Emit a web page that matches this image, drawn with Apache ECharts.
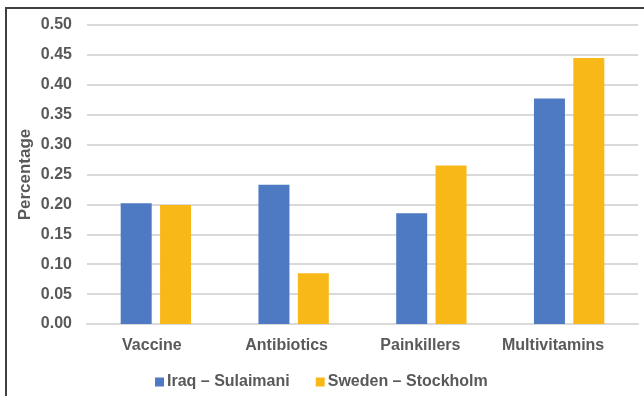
<!DOCTYPE html>
<html>
<head>
<meta charset="utf-8">
<script src="https://cdn.jsdelivr.net/npm/echarts@6/dist/echarts.min.js"></script>
<style>
  html, body { margin: 0; padding: 0; background: #fff; }
  #chart { width: 644px; height: 396px; }
</style>
</head>
<body>
<div id="chart"></div>
<script>
// Share of respondents using each medicine type, by city
const categories = ['Vaccine', 'Antibiotics', 'Painkillers', 'Multivitamins'];
const iraqSulaimani = [0.202, 0.233, 0.185, 0.377];
const swedenStockholm = [0.199, 0.085, 0.265, 0.445];
const seriesNames = ['Iraq \u2013 Sulaimani', 'Sweden \u2013 Stockholm'];

const textColor = '#595959';
const font = 'Liberation Sans, Arial, sans-serif';

// category labels sit slightly left of their bar pairs; nudge each one
const labelShift = [4, 7, 11, 16];
const labelRich = {};
labelShift.forEach((s, i) => {
  labelRich['c' + i] = {
    color: textColor, fontSize: 16, fontWeight: 'bold', fontFamily: font,
    padding: [0, 2 * s, 0, 0]
  };
});

const chart = echarts.init(document.getElementById('chart'), null, { renderer: 'canvas' });
chart.setOption({
  animation: false,
  backgroundColor: '#ffffff',
  graphic: [{
    type: 'rect',
    z: 100,
    shape: { x: 6, y: 8, width: 700, height: 500 },
    style: { fill: 'none', stroke: '#404040', lineWidth: 2 }
  }],
  grid: { left: 87, right: 6, top: 25, bottom: 72, containLabel: false },
  legend: {
    data: seriesNames,
    left: 150,
    top: 369,
    itemWidth: 9,
    itemHeight: 9,
    itemGap: 26,
    icon: 'rect',
    textStyle: { color: textColor, fontSize: 16, fontWeight: 'bold', fontFamily: font, padding: [0, 0, 0, -2] }
  },
  xAxis: {
    type: 'category',
    data: categories,
    axisTick: { show: false },
    axisLine: { lineStyle: { color: '#d9d9d9', width: 2 } },
    axisLabel: {
      interval: 0,
      hideOverlap: false,
      color: textColor, fontSize: 16, fontWeight: 'bold', fontFamily: font, margin: 14,
      formatter: (v, i) => '{c' + i + '|' + v + '}',
      rich: labelRich
    }
  },
  yAxis: {
    type: 'value',
    min: 0,
    max: 0.5,
    interval: 0.05,
    name: 'Percentage',
    nameLocation: 'middle',
    nameGap: 53,
    nameMoveOverlap: false,
    nameTextStyle: { color: textColor, fontSize: 17, fontWeight: 'bold', fontFamily: font },
    axisLine: { show: false },
    axisTick: { show: false },
    splitLine: { lineStyle: { color: '#d9d9d9', width: 2 } },
    axisLabel: {
      color: textColor, fontSize: 16, fontWeight: 'bold', fontFamily: font, margin: 15,
      formatter: v => v.toFixed(2)
    }
  },
  series: [
    {
      name: seriesNames[0],
      type: 'bar',
      data: iraqSulaimani,
      barWidth: 31,
      barGap: '27%',
      itemStyle: { color: '#4e7ac3' }
    },
    {
      name: seriesNames[1],
      type: 'bar',
      data: swedenStockholm,
      barWidth: 31,
      barGap: '27%',
      itemStyle: { color: '#f8b918' }
    }
  ]
});
</script>
</body>
</html>
